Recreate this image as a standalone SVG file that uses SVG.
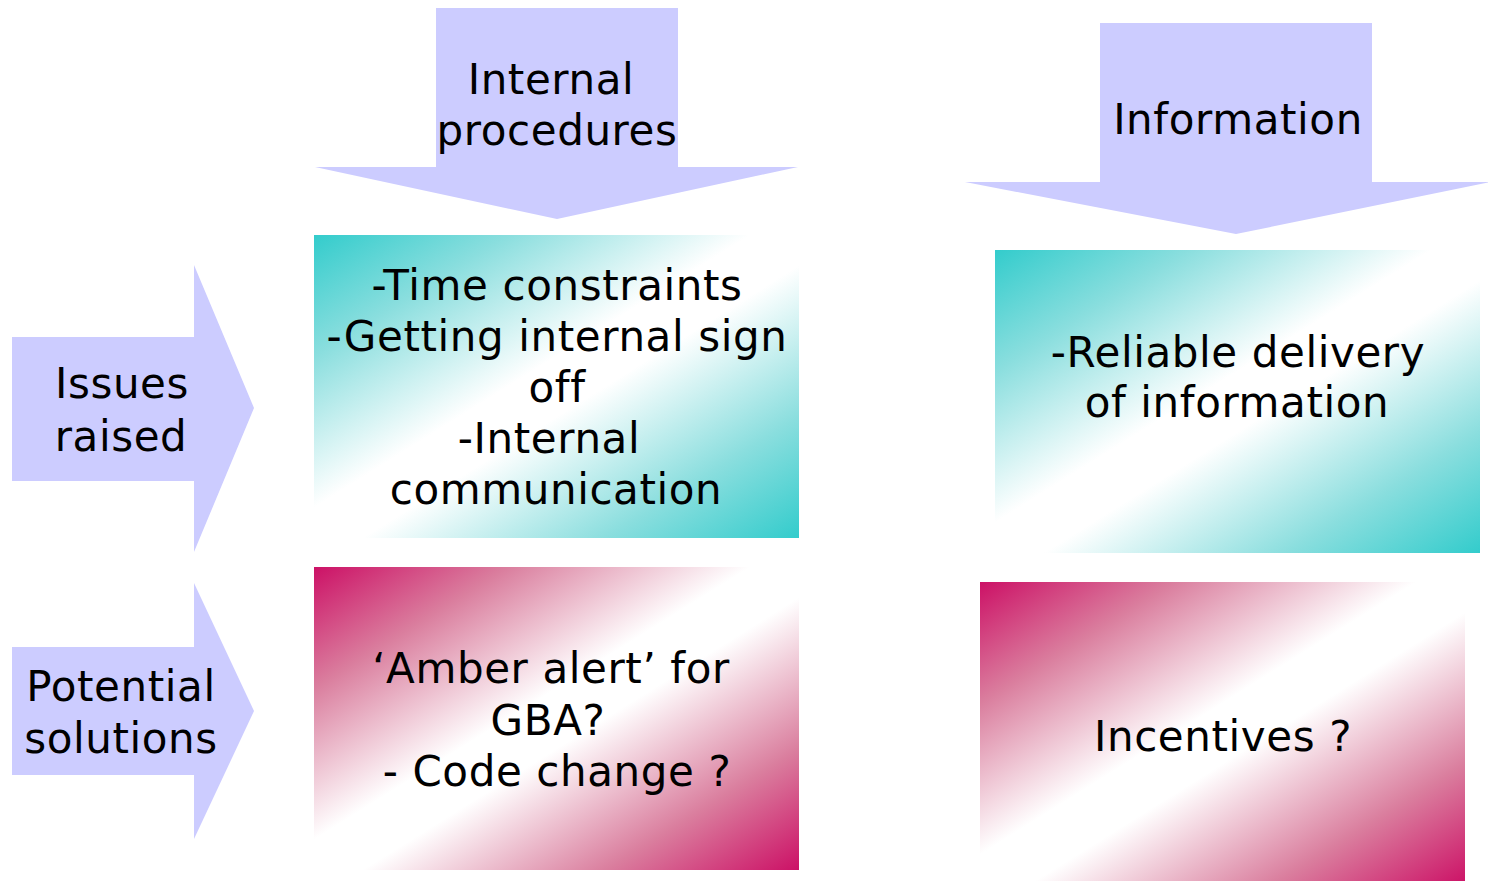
<svg xmlns="http://www.w3.org/2000/svg" width="1488" height="881" viewBox="0 0 1488 881">
<defs>
<linearGradient id="teal" x1="0" y1="0" x2="1" y2="1">
<stop offset="0" stop-color="#33CCCC"/>
<stop offset="0.2" stop-color="#8ADEDE"/>
<stop offset="0.45" stop-color="#FFFFFF"/>
<stop offset="0.55" stop-color="#FFFFFF"/>
<stop offset="0.8" stop-color="#8ADEDE"/>
<stop offset="1" stop-color="#33CCCC"/>
</linearGradient>
<linearGradient id="mag" x1="0" y1="0" x2="1" y2="1">
<stop offset="0" stop-color="#CC1166"/>
<stop offset="0.2" stop-color="#DA7E9E"/>
<stop offset="0.45" stop-color="#FFFFFF"/>
<stop offset="0.55" stop-color="#FFFFFF"/>
<stop offset="0.8" stop-color="#DA7E9E"/>
<stop offset="1" stop-color="#CC1166"/>
</linearGradient>
<style>
.arrow{fill:#CCCCFF;stroke:none}
text{font-family:"DejaVu Sans","Verdana",sans-serif;font-size:42px;letter-spacing:0.6px;fill:#000;text-anchor:middle}
</style>
</defs>
<rect width="1488" height="881" fill="#FFFFFF"/>
<g id="connectors">
<g id="arrow-internal">
<polygon class="arrow" points="436,8 678,8 678,167 798,167 557,219 315,167 436,167"/>
<text x="551" y="94">Internal</text>
<text x="557" y="145">procedures</text>
</g>
<g id="arrow-information">
<polygon class="arrow" points="1100,23 1372,23 1372,182 1490,182 1236,234 965,182 1100,182"/>
<text x="1238" y="134">Information</text>
</g>
<g id="arrow-issues">
<polygon class="arrow" points="12,337 194,337 194,265 254,408 194,552 194,481 12,481"/>
<text x="122" y="398">Issues</text>
<text x="121" y="451">raised</text>
</g>
<g id="arrow-solutions">
<polygon class="arrow" points="12,647 194,647 194,583 254,711 194,839 194,775 12,775"/>
<text x="121" y="701">Potential</text>
<text x="121" y="753">solutions</text>
</g>
</g>
<g id="box-issues-internal">
<rect x="314" y="235" width="485" height="303" fill="url(#teal)"/>
<text x="557" y="300">-Time constraints</text>
<text x="557" y="351">-Getting internal sign</text>
<text x="557" y="402">off</text>
<text x="549" y="453">-Internal</text>
<text x="556" y="504">communication</text>
</g>
<g id="box-issues-information">
<rect x="995" y="250" width="485" height="303" fill="url(#teal)"/>
<text x="1238" y="367">-Reliable delivery</text>
<text x="1237" y="417">of information</text>
</g>
<g id="box-solutions-internal">
<rect x="314" y="567" width="485" height="303" fill="url(#mag)"/>
<text x="551" y="683">‘Amber alert’ for</text>
<text x="548" y="735">GBA?</text>
<text x="557" y="786">- Code change ?</text>
</g>
<g id="box-solutions-information">
<rect x="980" y="582" width="485" height="303" fill="url(#mag)"/>
<text x="1223" y="751">Incentives ?</text>
</g>
</svg>
